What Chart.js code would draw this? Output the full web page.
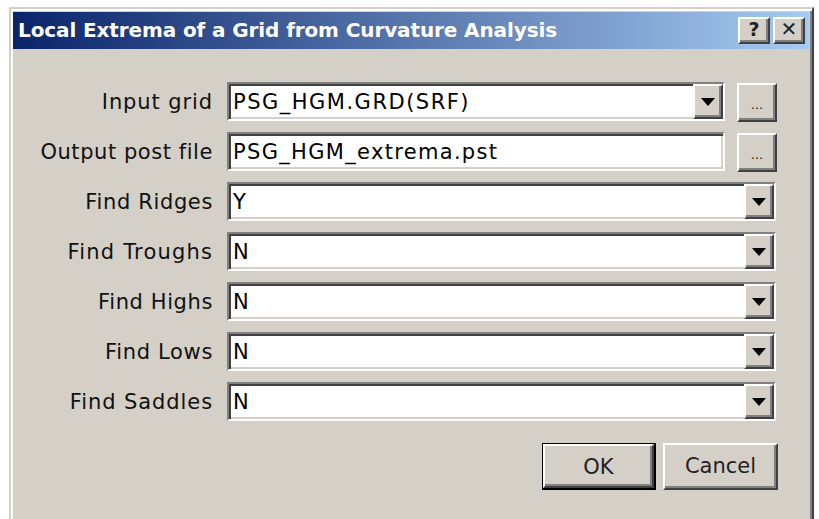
<!DOCTYPE html>
<html>
<head>
<meta charset="utf-8">
<script src="https://cdn.jsdelivr.net/npm/chart.js@4.4.1/dist/chart.umd.min.js"></script>
<style>
  html,body{margin:0;padding:0;background:#fff;}
  body{width:819px;height:519px;position:relative;overflow:hidden;font-family:"DejaVu Sans",Verdana,sans-serif;}
  .abs{position:absolute;box-sizing:border-box;}
  #win{left:9px;top:7px;width:805px;height:530px;background:#d4d0c8;
       border-style:solid;border-width:2px;border-color:#d4d0c8 #404040 #404040 #d4d0c8;
       box-shadow:inset 2px 2px #fff, inset -2px -2px #808080;}
  #title{left:13px;top:12px;width:796px;height:37px;background:linear-gradient(to right,#0a246a,#a6caf0);}
  #titletext{left:18px;top:12px;height:37px;line-height:37px;color:#fff;font-weight:bold;font-size:20px;white-space:nowrap;}
  .raised{background:#d4d0c8;border-style:solid;border-width:2px;border-color:#fff #404040 #404040 #fff;
          box-shadow:inset -2px -2px #808080, inset 2px 2px #d4d0c8;}
  .sunken{background:#fff;border-style:solid;border-width:2px;border-color:#808080 #fff #fff #808080;
          box-shadow:inset 2px 2px #404040, inset -2px -2px #d4d0c8;}
  .lbl{font-size:21px;color:#111;white-space:nowrap;text-align:right;}
  .val{font-size:21px;color:#000;white-space:nowrap;}
  .btntxt{font-size:21px;color:#222;text-align:center;white-space:nowrap;}
  .arrow{width:0;height:0;border-left:7px solid transparent;border-right:7px solid transparent;border-top:8px solid #000;}
  #hiddenChart{position:absolute;left:0;top:0;width:1px;height:1px;opacity:0;pointer-events:none;}
</style>
</head>
<body>
<div id="hiddenChart"><canvas id="c" width="1" height="1"></canvas></div>
<script>
// ---- content ----
const dialogTitle = "Local Extrema of a Grid from Curvature Analysis";
const fieldLabels = ["Input grid","Output post file","Find Ridges","Find Troughs","Find Highs","Find Lows","Find Saddles"];
const fieldValues = ["PSG_HGM.GRD(SRF)","PSG_HGM_extrema.pst","Y","N","N","N","N"];
const fieldKinds  = ["combo-browse","text-browse","combo","combo","combo","combo","combo"];
const buttonLabels = ["OK","Cancel"];
const titleButtons = ["?","\u2715"];

// ---- layout ----
function el(cls, x, y, w, h, parent){
  const d=document.createElement('div');
  d.className='abs '+cls;
  d.style.left=x+'px'; d.style.top=y+'px';
  if(w!=null) d.style.width=w+'px';
  if(h!=null) d.style.height=h+'px';
  (parent||document.body).appendChild(d);
  return d;
}
function fit(node, target){
  node.style.letterSpacing='0px';
  const w=node.scrollWidth;
  const n=node.textContent.length;
  if(n>1) node.style.letterSpacing=((target-w)/n).toFixed(2)+'px';
}

const win=el('',9,7,805,530); win.id='win';
const tb=el('',13,12,796,37); tb.id='title';
const tt=el('',18,12,null,37); tt.id='titletext'; tt.textContent=dialogTitle;

// title buttons
[[738,17],[773,17]].forEach((p,i)=>{
  const b=el('raised',p[0],p[1],32,27);
  const t=el('btntxt',0,-3,28,27,b);
  t.style.lineHeight='27px'; t.style.fontWeight='bold'; t.style.fontSize= i==0?'19px':'20px';
  t.textContent=titleButtons[i];
});

const rowTop=82, rowStep=50, rowH=39;
const labelNodes=[], valueNodes=[];
fieldLabels.forEach((lab,i)=>{
  const y=rowTop+i*rowStep;
  const l=el('lbl',0,y,213,rowH); l.style.lineHeight=(rowH+1)+'px'; l.style.textAlign='right';
  const span=document.createElement('span'); span.textContent=lab; span.style.display='inline-block'; l.appendChild(span);
  labelNodes.push(span);
  const kind=fieldKinds[i];
  const wide = (kind==='combo');
  const bw = wide ? 549 : 498;
  const box=el('sunken',227,y,bw,rowH);
  const v=el('val',4,0,null,rowH-4,box); v.style.lineHeight=(rowH-2)+'px'; v.textContent=fieldValues[i];
  valueNodes.push(v);
  if(kind.startsWith('combo')){
    const db=el('raised',bw-4-30,0,30,rowH-4,box);
    el('arrow',6,12,null,null,db);
  }
  if(kind.endsWith('browse')){
    const bb=el('raised',737,y+1,40,39);
    const t=el('btntxt',0,0,36,33,bb); t.style.lineHeight='40px'; t.style.fontSize='13px'; t.textContent='...';
  }
});

// OK / Cancel
const okOuter=el('',542,443,114,47); okOuter.style.border='1px solid #000'; okOuter.style.borderRightWidth='2px'; okOuter.style.borderBottomWidth='2px';
const ok=el('raised',0,0,111,44,okOuter);
const okt=el('btntxt',0,0,107,40,ok); okt.style.lineHeight='42px'; okt.textContent=buttonLabels[0];
const cb=el('raised',663,443,115,47);
const cbt=el('btntxt',0,0,111,43,cb); cbt.style.lineHeight='42px'; cbt.textContent=buttonLabels[1];

// text width fitting to match the reference metrics
fit(tt,539);
const labelW=[111,173,128,145,115,108,143];
labelNodes.forEach((n,i)=>fit(n,labelW[i]));
fit(valueNodes[0],237); fit(valueNodes[1],265);

// Chart.js instance (no visible marks in this dialog)
new Chart(document.getElementById('c'),{type:'bar',data:{labels:fieldLabels,datasets:[]},
  options:{responsive:false,animation:false,plugins:{legend:{display:false}},scales:{x:{display:false},y:{display:false}}}});
</script>
</body>
</html>
